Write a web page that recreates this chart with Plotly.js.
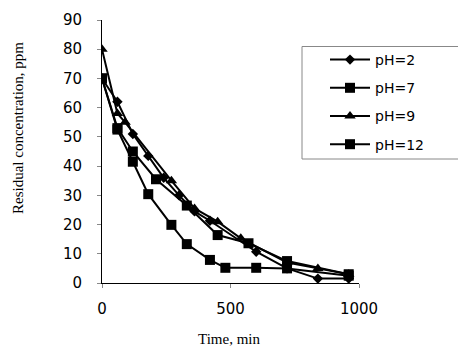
<!DOCTYPE html>
<html>
<head>
<meta charset="utf-8">
<script src="https://cdn.plot.ly/plotly-3.0.1.min.js"></script>
<style>html,body{margin:0;padding:0;background:#fff;}#chart{width:458px;height:349px;}</style>
</head>
<body>
<div id="chart"></div>
<script>
var seriesNames = ["pH=2", "pH=7", "pH=9", "pH=12"];
var time_pH2 = [0, 60, 120, 180, 240, 300, 360, 420, 600, 720, 840, 960];
var conc_pH2 = [70, 62, 51, 43.5, 36, 30, 24.5, 21.3, 10.7, 5, 1.5, 1.5];
var time_pH7 = [0, 60, 120, 210, 330, 450, 570, 720, 960];
var conc_pH7 = [70, 53, 45, 35.5, 26.5, 16.4, 13.6, 7.5, 3];
var time_pH9 = [0, 60, 90, 270, 360, 450, 540, 720, 840, 960];
var conc_pH9 = [80, 58, 55, 35, 25.5, 21, 15.3, 7, 5, 3];
var time_pH12 = [0, 60, 120, 180, 270, 330, 420, 480, 600, 720, 960];
var conc_pH12 = [70, 52.5, 41.5, 30.4, 19.9, 13.3, 7.9, 5.2, 5.2, 5, 2.5];
var xTicks = [0, 500, 1000];
var yTicks = [0, 10, 20, 30, 40, 50, 60, 70, 80, 90];

var times = [time_pH2, time_pH7, time_pH9, time_pH12];
var concs = [conc_pH2, conc_pH7, conc_pH9, conc_pH12];
var symbols = ["diamond", "square", "triangle-up", "square"];
var sizes = [8, 10, 10, 10];

var traces = seriesNames.map(function (n, i) {
  return {
    x: times[i], y: concs[i], name: n, type: "scatter", mode: "lines+markers",
    legendgroup: "g" + i,
    line: {color: "#000", width: 2},
    marker: {symbol: symbols[i], size: sizes[i], color: "#000"}
  };
});

var sans = "DejaVu Sans, Liberation Sans, Arial, sans-serif";
var serif = "Liberation Serif, Times New Roman, serif";

var layout = {
  width: 458, height: 349,
  margin: {l: 102, r: 99, t: 20, b: 66},
  paper_bgcolor: "#fff", plot_bgcolor: "#fff",
  font: {family: sans, size: 14, color: "#000"},
  showlegend: true,
  legend: {
    x: (330 - 102 - 5) / 257, xanchor: "left",
    y: 1 - (44 - 20) / 263, yanchor: "top",
    bgcolor: "rgba(0,0,0,0)", borderwidth: 0,
    font: {family: sans, size: 14, color: "#000"},
    traceorder: "grouped", tracegroupgap: 7, itemwidth: 40
  },
  xaxis: {
    range: [0, 1000], tickvals: xTicks, ticktext: xTicks.map(String),
    showgrid: false, zeroline: false, showline: true, linecolor: "#000", linewidth: 1,
    ticks: "outside", ticklen: 4, tickcolor: "#888", ticklabelstandoff: 8,
    tickfont: {family: sans, size: 15}
  },
  yaxis: {
    range: [0, 90], tickvals: yTicks, ticktext: yTicks.map(String),
    showgrid: false, zeroline: false, showline: true, linecolor: "#000", linewidth: 1,
    ticks: "outside", ticklen: 4, tickcolor: "#888", ticklabelstandoff: 12,
    tickfont: {family: sans, size: 15}
  },
  shapes: [{
    type: "rect", xref: "paper", yref: "paper",
    x0: (302 - 102) / 257, x1: (470 - 102) / 257,
    y0: 1 - (159 - 20) / 263, y1: 1 - (46.5 - 20) / 263,
    line: {color: "#888", width: 1}, fillcolor: "rgba(0,0,0,0)"
  }],
  annotations: [
    {text: "Time, min", xref: "paper", yref: "paper", x: (229 - 102) / 257, y: 1 - (339 - 20) / 263,
     xanchor: "center", yanchor: "middle", showarrow: false,
     font: {family: serif, size: 15, color: "#000"}},
    {text: "Residual concentration, ppm", xref: "paper", yref: "paper", x: (18 - 102) / 257, y: 1 - (128 - 20) / 263,
     xanchor: "center", yanchor: "middle", showarrow: false, textangle: -90,
     font: {family: serif, size: 15, color: "#000"}}
  ]
};

Plotly.newPlot("chart", traces, layout, {displayModeBar: false, staticPlot: true});
</script>
</body>
</html>
